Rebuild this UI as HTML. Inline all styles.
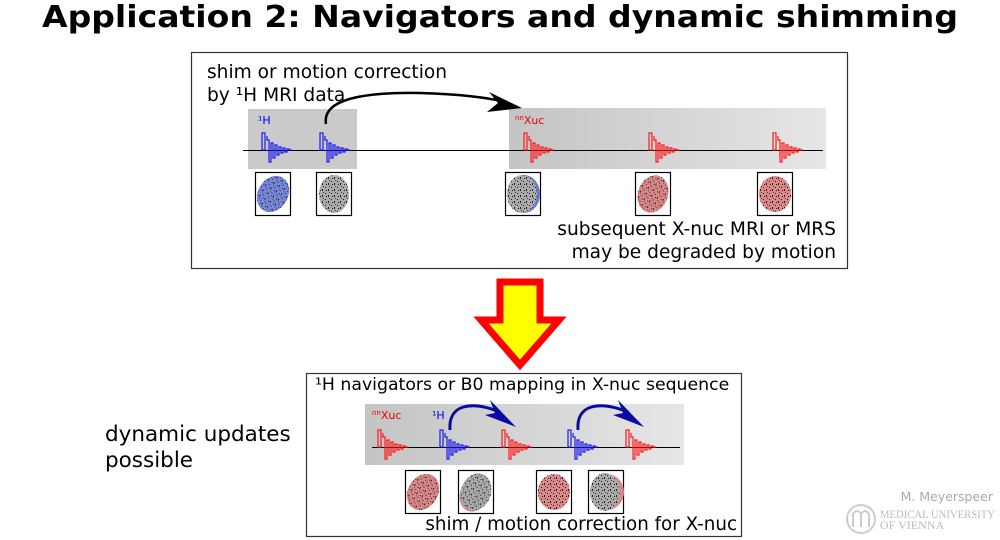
<!DOCTYPE html>
<html><head><meta charset="utf-8"><style>
html,body{margin:0;padding:0;background:#fff;}
svg{display:block;font-family:"DejaVu Sans","Liberation Sans",sans-serif;}
</style></head><body>
<svg width="1000" height="540" viewBox="0 0 1000 540" xmlns="http://www.w3.org/2000/svg">
<defs>
<linearGradient id="g1" x1="0" x2="1" y1="0" y2="0"><stop offset="0" stop-color="#c4c4c4"/><stop offset="1" stop-color="#e6e6e6"/></linearGradient>
<pattern id="noise" width="6" height="6" patternUnits="userSpaceOnUse">
<rect x="1" y="1" width="1" height="1" fill="#222"/><rect x="4" y="3" width="1" height="2" fill="#222"/><rect x="2" y="4" width="1" height="1" fill="#222"/><rect x="5" y="0" width="1" height="1" fill="#444"/>
</pattern>
<g id="fid" fill="none" stroke="currentColor" stroke-width="1.2">
<rect x="0" y="-17" width="3" height="17"/>
<polyline points="5,-14 5,-10 7,-10 7,12 9,12 9,-7 11,-7 11,8 13,8 13,-5 15,-5 15,5 17,5 17,-3 19,-3 19,3 21,3 21,-2 23,-2 23,2 25,2 25,-1 27,-1 27,0 30,0"/>
</g>
<g id="brainbox"><rect x="0" y="0" width="35" height="43" fill="#fff" stroke="#000" stroke-width="1.2"/></g>
</defs>

<text x="500" y="27" text-anchor="middle" font-size="30" font-weight="bold" textLength="916" lengthAdjust="spacingAndGlyphs">Application 2: Navigators and dynamic shimming</text>

<rect x="191.5" y="52.5" width="656" height="216" fill="#fff" stroke="#333" stroke-width="1.2"/>
<text x="207" y="78" font-size="18.6">shim or motion correction</text>
<text x="207" y="101" font-size="18.6">by ¹H MRI data</text>
<rect x="248" y="109" width="109" height="60" fill="#cacaca"/>
<rect x="509" y="108" width="317" height="61" fill="url(#g1)"/>
<line x1="243" y1="150.5" x2="823" y2="150.5" stroke="#000" stroke-width="1"/>
<text x="258" y="124" font-size="11" fill="#0000ee">¹H</text>
<text x="515" y="124" font-size="11" fill="#ee0000"><tspan font-size="7" dy="-4">nn</tspan><tspan dy="4">Xuc</tspan></text>
<use href="#fid" x="262" y="150" color="#1a1aee"/>
<use href="#fid" x="320" y="150" color="#1a1aee"/>
<use href="#fid" x="524" y="150" color="#ff1a1a"/>
<use href="#fid" x="649" y="150" color="#ff1a1a"/>
<use href="#fid" x="773" y="150" color="#ff1a1a"/>
<path d="M326,124 C322,100 360,92 420,93 C460,94 490,98 505,102" fill="none" stroke="#000" stroke-width="2.5"/>
<polygon points="522,108 489,92 498,103 487,112" fill="#000"/>
<use href="#brainbox" x="255.5" y="172.5"/>
<ellipse cx="273" cy="194" rx="15" ry="19" fill="#7788dd" transform="rotate(30 273 194)"/>
<ellipse cx="273" cy="194" rx="15" ry="19" fill="url(#noise)" transform="rotate(30 273 194)"/>
<use href="#brainbox" x="316.5" y="172.5"/>
<ellipse cx="334" cy="194" rx="15" ry="19" fill="#aaa"/><ellipse cx="334" cy="194" rx="15" ry="19" fill="url(#noise)"/>
<use href="#brainbox" x="505.5" y="172.5"/>
<ellipse cx="524" cy="194" rx="16" ry="19" fill="#6677cc"/>
<ellipse cx="522" cy="194" rx="15" ry="19" fill="#aaa"/><ellipse cx="522" cy="194" rx="15" ry="19" fill="url(#noise)"/>
<use href="#brainbox" x="635.5" y="172.5"/>
<ellipse cx="653" cy="194" rx="15" ry="19" fill="#dd8888" transform="rotate(20 653 194)"/><ellipse cx="653" cy="194" rx="15" ry="19" fill="url(#noise)" transform="rotate(20 653 194)"/>
<use href="#brainbox" x="757.5" y="172.5"/>
<ellipse cx="775" cy="194" rx="16" ry="18" fill="#dd8888"/><ellipse cx="775" cy="194" rx="16" ry="18" fill="url(#noise)"/>
<text x="836" y="235" font-size="18.6" text-anchor="end">subsequent X-nuc MRI or MRS</text>
<text x="836" y="258" font-size="18.6" text-anchor="end">may be degraded by motion</text>

<polygon points="500,282 540,282 540,320 559,320 520,365 481,320 500,320" fill="#ffff00" stroke="#ff0000" stroke-width="7" stroke-linejoin="miter"/>

<rect x="306.5" y="373.5" width="435" height="163" fill="#fff" stroke="#333" stroke-width="1.2"/>
<text x="315" y="390" font-size="17.3">¹H navigators or B0 mapping in X-nuc sequence</text>
<rect x="365" y="404" width="319" height="61" fill="url(#g1)"/>
<line x1="372" y1="447.5" x2="680" y2="447.5" stroke="#000" stroke-width="1"/>
<text x="372" y="419" font-size="11" fill="#ee0000"><tspan font-size="7" dy="-4">nn</tspan><tspan dy="4">Xuc</tspan></text>
<text x="432" y="419" font-size="11" fill="#0000ee">¹H</text>
<use href="#fid" x="378" y="447" color="#ff1a1a"/>
<use href="#fid" x="440" y="447" color="#1a1aee"/>
<use href="#fid" x="502" y="447" color="#ff1a1a"/>
<use href="#fid" x="568" y="447" color="#1a1aee"/>
<use href="#fid" x="626" y="447" color="#ff1a1a"/>
<path d="M450,430 C448,405 470,400 500,412" fill="none" stroke="#0a0aa0" stroke-width="3"/>
<polygon points="516,427 490,400 495,413 485,415" fill="#0a0aa0"/>
<path d="M578,430 C576,405 598,400 628,412" fill="none" stroke="#0a0aa0" stroke-width="3"/>
<polygon points="644,427 618,400 623,413 613,415" fill="#0a0aa0"/>
<use href="#brainbox" x="405.5" y="470.5"/>
<ellipse cx="423" cy="492" rx="15" ry="19" fill="#dd8888" transform="rotate(30 423 492)"/><ellipse cx="423" cy="492" rx="15" ry="19" fill="url(#noise)" transform="rotate(30 423 492)"/>
<use href="#brainbox" x="458.5" y="470.5"/>
<ellipse cx="474" cy="494" rx="14" ry="18" fill="#dd8888" transform="rotate(20 474 494)"/>
<ellipse cx="476" cy="492" rx="15" ry="19" fill="#aaa" transform="rotate(20 476 492)"/><ellipse cx="476" cy="492" rx="15" ry="19" fill="url(#noise)" transform="rotate(20 476 492)"/>
<use href="#brainbox" x="536.5" y="470.5"/>
<ellipse cx="554" cy="492" rx="16" ry="18" fill="#dd8888"/><ellipse cx="554" cy="492" rx="16" ry="18" fill="url(#noise)"/>
<use href="#brainbox" x="588.5" y="470.5"/>
<ellipse cx="607" cy="492" rx="17" ry="18" fill="#dd8888"/>
<ellipse cx="605" cy="492" rx="15" ry="19" fill="#aaa"/><ellipse cx="605" cy="492" rx="15" ry="19" fill="url(#noise)"/>
<text x="737" y="530" font-size="18.3" text-anchor="end">shim / motion correction for X-nuc</text>

<text x="105" y="441" font-size="21.5">dynamic updates</text>
<text x="105" y="467" font-size="21.5">possible</text>

<text x="993" y="501" font-size="12.5" fill="#aaa" text-anchor="end">M. Meyerspeer</text>
<circle cx="861" cy="519" r="14" fill="none" stroke="#ccc" stroke-width="2"/>
<path d="M853,527 V514 Q857,508 861,514 V527 M861,514 Q865,508 869,514 V527" fill="none" stroke="#ccc" stroke-width="2"/>
<text x="880" y="518" font-size="12" fill="#bbb" font-family="Liberation Serif,serif" textLength="115" lengthAdjust="spacingAndGlyphs">MEDICAL UNIVERSITY</text>
<text x="880" y="529" font-size="12" fill="#bbb" font-family="Liberation Serif,serif">OF VIENNA</text>
</svg>
</body></html>
